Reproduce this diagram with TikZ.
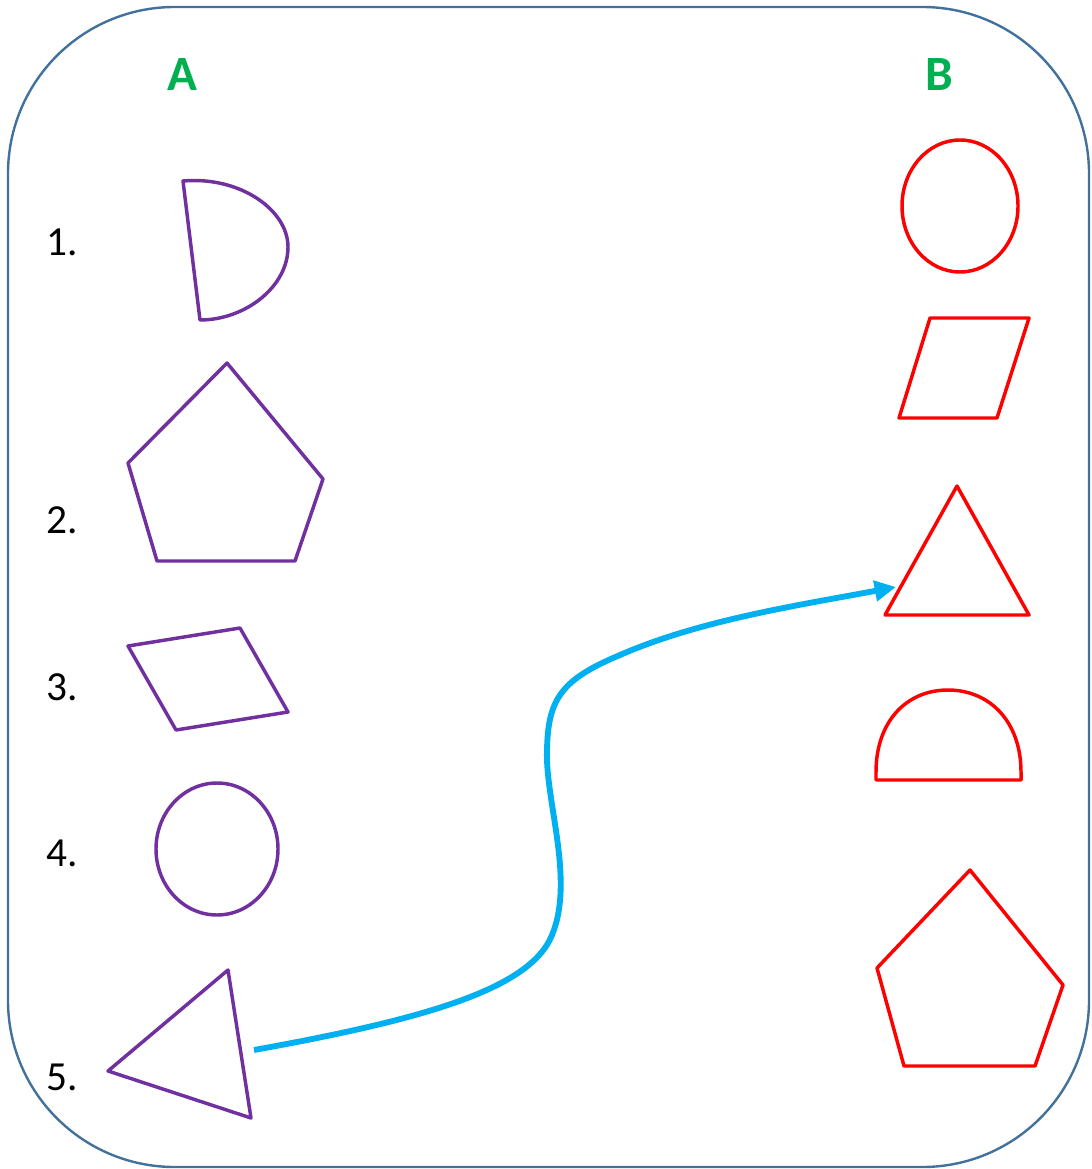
\documentclass[tikz,border=0pt]{standalone}
\usepackage{fontspec}
\setmainfont{Carlito}
\usetikzlibrary{arrows.meta}
\definecolor{frameblue}{HTML}{41719C}
\definecolor{apurple}{HTML}{7030A0}
\definecolor{bred}{HTML}{FF0000}
\definecolor{hgreen}{HTML}{00B050}
\definecolor{arrowcyan}{HTML}{00B0F0}
\tikzset{
  frame/.style={draw=frameblue, line width=1.8pt, rounded corners=125pt},
  ashape/.style={draw=apurple, line width=2.6pt, line join=round},
  bshape/.style={draw=bred, line width=2.6pt, line join=round},
  numlabel/.style={font=\fontsize{31}{36}\selectfont, text=black, inner sep=0pt},
  head/.style={font=\fontsize{37}{42}\selectfont\bfseries, text=hgreen, inner sep=0pt},
  link/.style={draw=arrowcyan, line width=4.4pt, -{Triangle[length=16pt,width=15pt]}}
}
\begin{document}
\begin{tikzpicture}[x=0.75pt,y=-0.75pt]
\useasboundingbox (0,0) rectangle (1091,1169);
\draw[frame] (8,7) rectangle (1089,1167);
% headings
\node[head] (hA) at (182,75) {A};
\node[head] (hB) at (939,75) {B};
% numbers
\node[numlabel] (n1) at (62,242) {1.};
\node[numlabel] (n2) at (62,520) {2.};
\node[numlabel] (n3) at (62,687) {3.};
\node[numlabel] (n4) at (62,853) {4.};
\node[numlabel] (n5) at (62,1077) {5.};
% column A shapes
\draw[ashape] (183,181) .. controls (240,176) and (288,210) .. (288,247)
  .. controls (288,287) and (245,320) .. (200,320) -- cycle;
\draw[ashape] (227,363) -- (323,479) -- (295,561) -- (157,561) -- (128,463) -- cycle;
\draw[ashape] (128,646) -- (240,628) -- (288,712) -- (176,730) -- cycle;
\draw[ashape] (217,849) ellipse [x radius=61, y radius=66];
\draw[ashape] (228,970) -- (251,1118) -- (108,1071) -- cycle;
% column B shapes
\draw[bshape] (960,206) ellipse [x radius=58, y radius=66];
\draw[bshape] (930,318) -- (1029,318) -- (997,418) -- (899,418) -- cycle;
\draw[bshape] (957,486) -- (1029,615) -- (885,615) -- cycle;
\draw[bshape] (876,780) -- (1021,780) -- (1021,772) .. controls (1021,722) and (990,690) .. (948,690)
  .. controls (906,690) and (876,722) .. (876,772) -- cycle;
\draw[bshape] (970,870) -- (1063,985) -- (1035,1066) -- (904,1066) -- (877,968) -- cycle;
% connector
\coordinate (t5) at (254,1050);
\coordinate (tB) at (896,587);
\draw[link] (t5) .. controls (420,1020) and (530,990) .. (552,935)
  .. controls (575,880) and (545,800) .. (547,750)
  .. controls (548,700) and (560,680) .. (620,655)
  .. controls (700,620) and (800,605) .. (tB);
\end{tikzpicture}
\end{document}
